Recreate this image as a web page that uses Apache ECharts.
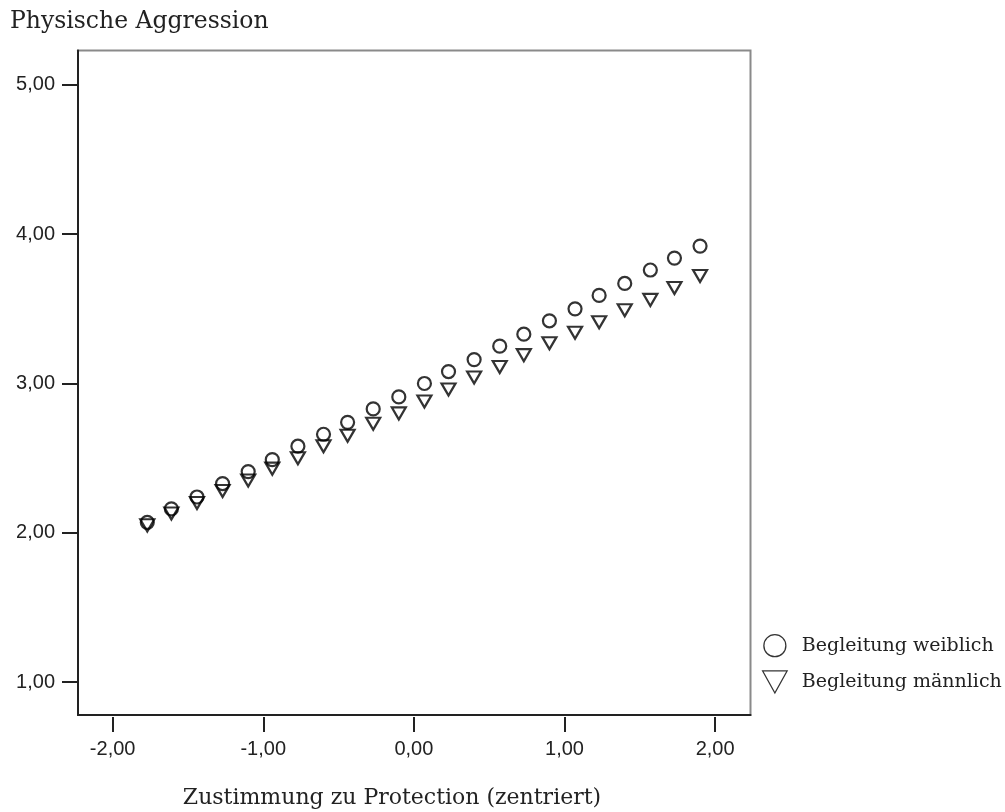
<!DOCTYPE html>
<html>
<head>
<meta charset="utf-8">
<script src="https://cdn.jsdelivr.net/npm/echarts@6/dist/echarts.min.js"></script>
<style>
html, body { margin: 0; padding: 0; background: #fff; }
#chart { width: 1005px; height: 812px; }
</style>
</head>
<body>
<div id="chart"></div>
<script>
// x-Werte (Zustimmung zu Protection, zentriert)
var protection = [-1.77, -1.61, -1.44, -1.27, -1.10, -0.94, -0.77, -0.60, -0.44, -0.27, -0.10, 0.07,
    0.23, 0.40, 0.57, 0.73, 0.90, 1.07, 1.23, 1.40, 1.57, 1.73, 1.90];
// Physische Aggression je Begleitung
var weiblich = [2.07, 2.16, 2.24, 2.33, 2.41, 2.49, 2.58, 2.66, 2.74, 2.83, 2.91, 3.00,
    3.08, 3.16, 3.25, 3.33, 3.42, 3.50, 3.59, 3.67, 3.76, 3.84, 3.92];
var maennlich = [2.05, 2.13, 2.20, 2.28, 2.35, 2.43, 2.50, 2.58, 2.65, 2.73, 2.80, 2.88,
    2.96, 3.04, 3.11, 3.19, 3.27, 3.34, 3.41, 3.49, 3.56, 3.64, 3.72];
var xTicks = [-2, -1, 0, 1, 2];
var yTicks = [1, 2, 3, 4, 5];

var serif = 'DejaVu Serif';
var fmt = function (v) { return v.toFixed(2).replace('.', ','); };
// Dreieck mit Spitze nach unten
var triDown = 'path://M0,0L20,0L10,18Z';

var myChart = echarts.init(document.getElementById('chart'));

var xRange = { min: -2.23, max: 2.235 };

var option = {
    animation: false,
    backgroundColor: '#fff',
    title: [{
        text: 'Physische Aggression',
        left: 5,
        top: 5,
        textStyle: { fontFamily: serif, fontSize: 23.5, fontWeight: 'normal', color: '#222' }
    }, {
        text: 'Zustimmung zu Protection (zentriert)',
        left: 387,
        top: 782,
        textAlign: 'center',
        textStyle: { fontFamily: serif, fontSize: 22, fontWeight: 'normal', color: '#222' }
    }],
    legend: {
        orient: 'vertical',
        left: 757,
        top: 629,
        itemWidth: 44,
        itemHeight: 22,
        itemGap: 13,
        data: [
            { name: 'Begleitung weiblich', icon: 'circle' },
            { name: 'Begleitung männlich', icon: triDown }
        ],
        itemStyle: { borderWidth: 1.3 },
        textStyle: { fontFamily: serif, fontSize: 19, color: '#222' }
    },
    grid: {
        show: true,
        left: 78,
        top: 50.5,
        right: 254.5,
        bottom: 97,
        borderColor: '#8a8a8a',
        borderWidth: 2
    },
    xAxis: [{
        type: 'value',
        min: xRange.min,
        max: xRange.max,
        axisLine: { show: true, onZero: false, lineStyle: { color: '#222', width: 2 } },
        axisTick: { show: false },
        axisLabel: { show: false },
        splitLine: { show: false }
    }, {
        type: 'value',
        position: 'bottom',
        offset: 2,
        min: xRange.min,
        max: xRange.max,
        axisLine: { show: false },
        axisTick: { show: true, length: 15, customValues: xTicks, lineStyle: { color: '#222', width: 2 } },
        axisLabel: {
            customValues: xTicks, margin: 22, formatter: fmt,
            fontFamily: 'Liberation Sans', fontSize: 20, color: '#222'
        },
        splitLine: { show: false }
    }],
    yAxis: {
        type: 'value',
        min: 0.78,
        max: 5.23,
        axisLine: { show: true, onZero: false, lineStyle: { color: '#222', width: 2 } },
        axisTick: { show: true, length: 16, customValues: yTicks, lineStyle: { color: '#222', width: 2 } },
        axisLabel: {
            customValues: yTicks, margin: 23, formatter: fmt,
            fontFamily: 'Liberation Sans', fontSize: 20, color: '#222'
        },
        splitLine: { show: false }
    },
    series: [{
        name: 'Begleitung weiblich',
        type: 'scatter',
        xAxisIndex: 0,
        symbol: 'circle',
        symbolSize: 13,
        itemStyle: { color: 'rgba(0,0,0,0)', borderColor: '#000', borderWidth: 2.2 },
        data: protection.map(function (x, i) { return [x, weiblich[i]]; })
    }, {
        name: 'Begleitung männlich',
        type: 'scatter',
        xAxisIndex: 0,
        symbol: triDown,
        symbolSize: [14, 12],
        itemStyle: { color: 'rgba(0,0,0,0)', borderColor: '#000', borderWidth: 2.2 },
        data: protection.map(function (x, i) { return [x, maennlich[i]]; })
    }]
};

myChart.setOption(option);
</script>
</body>
</html>
